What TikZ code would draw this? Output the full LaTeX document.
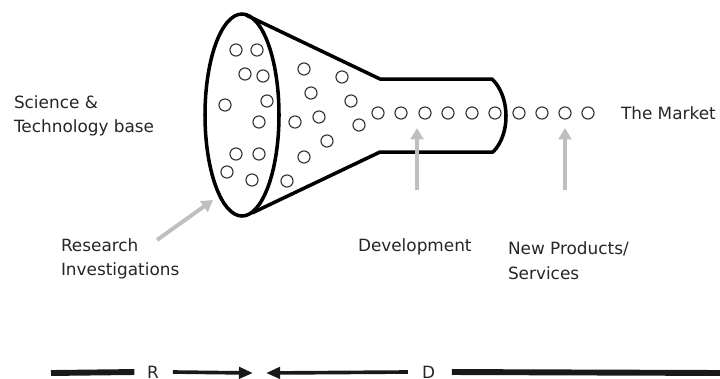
\documentclass[tikz,border=0pt]{standalone}
\usepackage{fontspec}
\setmainfont{DejaVu Sans}
\usetikzlibrary{arrows.meta}

\tikzset{
  bubble/.style={circle, draw=black!80, line width=0.8pt, minimum size=8.6pt},
  label text/.style={anchor=west, align=left, text=black!85,
    font=\fontsize{12}{17.5}\selectfont},
  hint/.style={draw=black!25, line width=2.8pt,
    -{Triangle[length=8pt, width=9pt]}},
  rd bar/.style={draw=black!90, line width=4.2pt},
  rd arrow/.style={draw=black!90, line width=2.6pt,
    -{Triangle[length=10pt, width=8pt]}}
}

\begin{document}
\begin{tikzpicture}[x=0.025cm, y=-0.025cm, inner sep=0, outer sep=0]
  \useasboundingbox (0,0) rectangle (720,378);
  \clip (0,0) rectangle (720,378);

  % funnel
  \draw[line width=2.5pt, line join=round]
    (246,15) -- (380,79) -- (492,79)
    .. controls (510,96) and (511,134) .. (493,152)
    -- (380,152) -- (252,213);
  \draw[line width=2.5pt] (242,115) ellipse [x radius=37, y radius=101];

  % ideas inside the funnel
  \foreach \x/\y [count=\i] in {236/50, 257/50, 245/74, 263/76, 225/105,
      267/101, 259/122, 236/154, 259/154, 227/172, 252/180, 287/181,
      304/69, 342/77, 311/93, 351/101, 295/122, 319/117, 359/125,
      327/141, 304/157}
    \node[bubble] (idea\i) at (\x,\y) {};

  % products leaving through the neck
  \foreach \x [count=\i] in {378, 401, 425, 448, 472, 495, 519, 542, 565, 588}
    \node[bubble] (prod\i) at (\x,113) {};

  \node[label text] (market) at (621,113) {The Market};
  \node[label text] (science) at (14,116) {Science \&\\Technology base};
  \node[label text] (research) at (61,259) {Research\\Investigations};
  \node[label text] (development) at (358,247) {Development};
  \node[label text] (products) at (508,261) {New Products/\\Services};

  \coordinate (research tip) at (213,200);
  \coordinate (research tail) at (157,240);
  \coordinate (dev tip) at (417,128);
  \coordinate (dev tail) at (417,190);
  \draw[hint] (research tail) -- (research tip);
  \draw[hint] (dev tail) -- (dev tip);
  \draw[hint] (prod9 |- dev tail) coordinate (new tail) -- (prod9 |- dev tip);

  % R & D scale
  \node[label text] (r) at (147,372) {R};
  \node[label text] (d) at (422,372) {D};
  \draw[rd bar] (51,373) -- ([xshift=-9]r.west);
  \draw[rd arrow] ([xshift=10]r.east) -- (253,373) coordinate (meet r);
  \draw[rd arrow] ([xshift=-10]d.west) -- (266,373) coordinate (meet d);
  \draw[rd bar] ([xshift=12]d.east) -- (725,373);
\end{tikzpicture}
\end{document}
